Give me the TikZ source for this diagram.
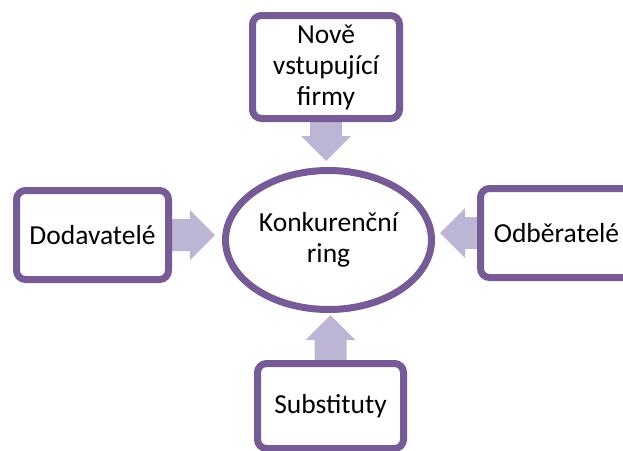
\documentclass[tikz,border=0pt]{standalone}
\usepackage{fontspec}
\setmainfont{Carlito}
\usetikzlibrary{shapes.geometric,shadows,calc,backgrounds}

\definecolor{forcepurple}{RGB}{118,91,151}
\definecolor{arrowlilac}{RGB}{189,181,212}

\tikzset{
	forcebox/.style={draw=forcepurple,
		line width=7pt,
		rounded corners=9pt,
		fill=white,
		inner sep=0pt,
		align=center,
		font=\fontsize{27.5}{31}\selectfont,
		drop shadow={opacity=0.22, shadow xshift=1pt, shadow yshift=-3pt}},
	ringbox/.style={forcebox,
		ellipse,
		rounded corners=0pt},
}

% block arrow from #1 (box side) to #2 (tip)
\newcommand{\blockarrow}[2]{%
	\coordinate (ba-head) at ($(#2)!25pt!(#1)$);
	\fill[arrowlilac] ($(#1)!16pt!90:(#2)$) -- ($(ba-head)!16pt!-90:(#1)$)
		-- ($(ba-head)!25pt!-90:(#1)$) -- (#2)
		-- ($(ba-head)!25pt!90:(#1)$) -- ($(ba-head)!16pt!90:(#1)$)
		-- ($(#1)!16pt!-90:(#2)$) -- cycle;
}

\begin{document}
\begin{tikzpicture}[x=1pt,y=-1pt]
		
		\useasboundingbox (0,0) rectangle (623,450);
		
		% Centre
		\node [ringbox,
		minimum width=206pt,
		minimum height=139pt] (ring) at (328.5,240) {Konkurenční\\ring};
		
		% New entrants
		\node [forcebox,
		minimum width=147pt,
		minimum height=103pt] (nove) at (326,67) {Nově\\vstupující\\firmy};
		
		% Suppliers
		\node [forcebox,
		minimum width=152pt,
		minimum height=89pt] (dodavatele) at (92.5,235) {Dodavatelé};
		
		% Buyers
		\node [forcebox,
		minimum width=152pt,
		minimum height=89pt] (odberatele) at (556.5,233) {Odběratelé};
		
		% Substitutes
		\node [forcebox,
		minimum width=146pt,
		minimum height=85pt] (substituty) at (330.5,406) {Substituty};
		
		% Arrow tips
		\coordinate (tipN) at ([yshift=6pt]ring.north);
		\coordinate (tipS) at ([yshift=-2pt]ring.south);
		\coordinate (tipW) at ([xshift=-7pt]ring.west);
		\coordinate (tipE) at ([xshift=5pt]ring.east);
		
		\begin{scope}[on background layer]
			\blockarrow{nove.south}{nove.south |- tipN}
			\blockarrow{substituty.north}{substituty.north |- tipS}
			\blockarrow{dodavatele.east}{dodavatele.east -| tipW}
			\blockarrow{odberatele.west}{odberatele.west -| tipE}
		\end{scope}
		
	\end{tikzpicture}
\end{document}
